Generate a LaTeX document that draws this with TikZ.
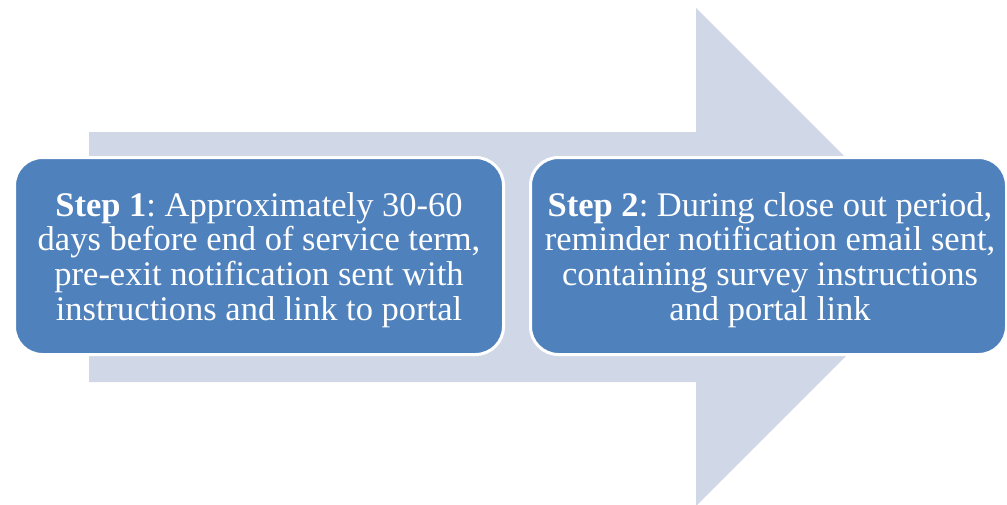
\documentclass[tikz,border=0pt]{standalone}
\usepackage{fontspec}
\setmainfont{Liberation Serif}
\frenchspacing
\definecolor{arrowfill}{HTML}{D0D8E8}
\definecolor{boxfill}{HTML}{4F81BD}
\tikzset{
  stepbox/.style={draw=white, line width=3pt, fill=boxfill, rounded corners=28pt,
    inner sep=0pt, minimum height=197pt},
  steptext/.style={text=white, align=center, inner sep=0pt,
    font=\fontsize{34.5pt}{34.7pt}\selectfont},
  bigarrow/.style={fill=arrowfill, draw=none}
}
\begin{document}
\begin{tikzpicture}[x=1pt,y=-1pt]
\useasboundingbox (0,0) rectangle (1007,504);
\fill[bigarrow] (89,132) -- (696,132) -- (696,8) -- (945,257) -- (696,506) -- (696,382) -- (89,382) -- cycle;
\node[stepbox, minimum width=489pt] (s1) at (259,256) {};
\node[stepbox, minimum width=476pt] (s2) at (768.5,256) {};
\node[steptext, yshift=-4pt] (t1) at (s1.center)
  {\textbf{Step 1}: Approximately 30-60\\days before end of service term,\\pre-exit notification sent with\\instructions and link to portal};
\node[steptext, yshift=-4pt, xshift=1.5pt] (t2) at (s2.center)
  {\textbf{Step 2}: During close out period,\\reminder notification email sent,\\containing survey instructions\\and portal link};
\end{tikzpicture}
\end{document}
